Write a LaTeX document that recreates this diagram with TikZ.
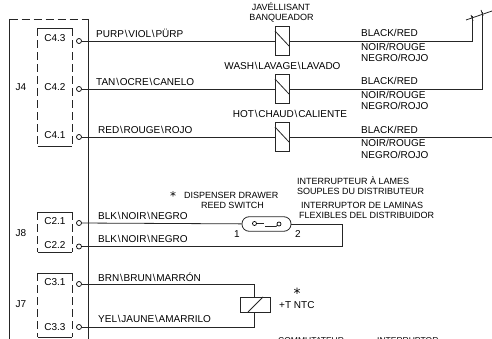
\documentclass[tikz,border=0pt]{standalone}
\usepackage{fontspec}
\setmainfont{Liberation Sans}
\newfontfamily\plotfont{Liberation Sans}
\newfontfamily\starfont{DejaVu Sans}
\newcommand{\bsl}{\kern0.8pt\textbackslash\kern0.8pt}
\newcommand{\plotstar}{\smash{\raisebox{-2pt}{\starfont\fontsize{12}{12}\selectfont *}}}
\tikzset{
	wire/.style={line width=0.8pt, black!85},
	frameline/.style={line width=0.8pt, black!85},
	splitline/.style={line width=0.8pt, black!85, dash pattern=on 8pt off 4pt},
	pin/.style={circle, draw, line width=0.7pt, minimum size=5pt, inner sep=0pt},
	label/.style={font=\plotfont\fontsize{10}{10}\selectfont, inner sep=0pt, text=black},
	namelabel/.style={label, font=\plotfont\fontsize{9}{9}\selectfont},
	wirelabel/.style={label, anchor=west},
	relaycoil/.style={draw, line width=0.8pt, black!85, minimum width=14pt, minimum height=29pt, inner sep=0pt},
	ntccoil/.style={draw, line width=0.8pt, black!85, minimum width=30pt, minimum height=15pt, inner sep=0pt},
}
\begin{document}
\begin{tikzpicture}[x=1pt, y=-1pt]
	\useasboundingbox (0, 0) rectangle (492, 339);
	
	% Main board frame
	\draw[splitline] (9.5, 19) -- (88.5, 19);
	\draw[frameline] (9.5, 19) -- (9.5, 339);
	\draw[frameline] (88.5, 19) -- (88.5, 339);
	
	% Connector housings
	\draw[frameline] (37.5, 28.5) -- (72, 28.5);
	\draw[frameline] (37.5, 146) -- (72, 146);
	\draw[splitline] (37.5, 28.5) -- (37.5, 146);
	\draw[splitline] (72, 28.5) -- (72, 146);
	\draw[frameline] (37.5, 212) -- (72, 212);
	\draw[frameline] (37.5, 252) -- (72, 252);
	\draw[splitline] (37.5, 212) -- (37.5, 252);
	\draw[splitline] (72, 212) -- (72, 252);
	\draw[frameline] (37.5, 273) -- (72, 273);
	\draw[frameline] (37.5, 337) -- (72, 337);
	\draw[splitline] (37.5, 273) -- (37.5, 337);
	\draw[splitline] (72, 273) -- (72, 337);
	
	% Connector names
	\node[label] (jfour) at (21, 87) {J4};
	\node[label] (jeight) at (21, 233) {J8};
	\node[label] (jseven) at (21, 304) {J7};
	\node[label] (cfourthree) at (55, 38.5) {C4.3};
	\node[label] (cfourtwo) at (55, 87) {C4.2};
	\node[label] (cfourone) at (55, 135) {C4.1};
	\node[label] (ctwoone) at (55, 221) {C2.1};
	\node[label] (ctwotwo) at (55, 245) {C2.2};
	\node[label] (cthreeone) at (55, 282) {C3.1};
	\node[label] (cthreethree) at (55, 327) {C3.3};
	
	% Pins
	\node[pin] (pinA) at (79, 41) {};
	\node[pin] (pinB) at (79, 89) {};
	\node[pin] (pinC) at (79, 137) {};
	\node[pin] (pinD) at (79, 223) {};
	\node[pin] (pinE) at (79, 246.5) {};
	\node[pin] (pinF) at (79, 284) {};
	\node[pin] (pinG) at (79, 327) {};
	
	% Valves
	\node[relaycoil] (valveA) at (282, 41) {};
	\node[relaycoil] (valveB) at (282, 89) {};
	\node[relaycoil] (valveC) at (282, 137) {};
	\draw[wire] (275, 31) -- (289, 46);
	\draw[wire] (275, 79) -- (289, 94);
	\draw[wire] (275, 127) -- (289, 142);
	
	% Free ends on the right
	\coordinate (endA) at (472, 16);
	\coordinate (endB) at (482, 12.5);
	\coordinate (endC) at (492, 137);
	\coordinate (capL) at (466, 20);
	\coordinate (capR) at (492, 11);
	
	% Valve wires
	\draw[wire] (pinA) -- (valveA);
	\draw[wire] (pinB) -- (valveB);
	\draw[wire] (pinC) -- (valveC);
	\draw[wire] (valveA) -- (472, 41) -- (endA);
	\draw[wire] (valveB) -- (482, 89) -- (endB);
	\draw[wire] (valveC) -- (endC);
	\draw[wire] (capL) -- (capR);
	\draw[wire] (471, 15) -- (473, 21);
	\draw[wire] (481, 10) -- (483, 16);
	
	% Reed switch
	\node[draw, wire, rounded corners=7pt, minimum width=49pt, minimum height=14.5pt, inner sep=0pt] (reed) at (266.5, 224) {};
	\node[pin, minimum size=4pt] (contactL) at (254.5, 223.5) {};
	\node[pin, minimum size=4pt] (contactR) at (279, 224) {};
	\coordinate (armL) at (264, 223.5);
	\coordinate (armR) at (265, 226.5);
	\draw[wire] (contactL) -- (armL);
	\draw[wire] (armR) -- (276, 226.5) -- (contactR);
	\draw[wire] (pinD) -- (reed);
	\draw[wire] (pinE) -- (342.5, 246.5) -- (342.5, 224) -- (reed);
	\node[label] (reedone) at (237, 234) {1};
	\node[label] (reedtwo) at (298, 234) {2};
	
	% NTC
	\node[ntccoil] (ntc) at (255, 304.5) {};
	\draw[wire] (248, 312) -- (263, 297);
	\draw[wire] (pinF) -- (254.5, 284) -- (254.5, 297);
	\draw[wire] (pinG) -- (254.5, 327) -- (254.5, 312);
	
	% Wire colours at the pins
	\node[wirelabel] (colA) at (96, 33) {PURP\bsl VIOL\bsl PÜRP};
	\node[wirelabel] (colB) at (96, 82) {TAN\bsl OCRE\bsl CANELO};
	\node[wirelabel] (colC) at (98, 130) {RED\bsl ROUGE\bsl ROJO};
	\node[wirelabel] (colD) at (98, 216) {BLK\bsl NOIR\bsl NEGRO};
	\node[wirelabel] (colE) at (98, 239) {BLK\bsl NOIR\bsl NEGRO};
	\node[wirelabel] (colF) at (98, 277) {BRN\bsl BRUN\bsl MARRÓN};
	\node[wirelabel] (colG) at (98, 319) {YEL\bsl JAUNE\bsl AMARRILO};
	
	% Wire colours at the right
	\node[wirelabel] (blackA) at (361, 33) {BLACK/RED};
	\node[wirelabel] (noirA) at (361, 47) {NOIR/ROUGE};
	\node[wirelabel] (negroA) at (361, 58) {NEGRO/ROJO};
	\node[wirelabel] (blackB) at (361, 81) {BLACK/RED};
	\node[wirelabel] (noirB) at (361, 95) {NOIR/ROUGE};
	\node[wirelabel] (negroB) at (361, 106) {NEGRO/ROJO};
	\node[wirelabel] (blackC) at (361, 130) {BLACK/RED};
	\node[wirelabel] (noirC) at (361, 143) {NOIR/ROUGE};
	\node[wirelabel] (negroC) at (361, 155) {NEGRO/ROJO};
	
	% Valve names
	\node[namelabel] (bleachA) at (281, 7) {JAVÉLLISANT};
	\node[namelabel] (bleachB) at (281.5, 18) {BANQUEADOR};
	\node[label] (wash) at (282.5, 66) {WASH\bsl LAVAGE\bsl LAVADO};
	\node[label] (hot) at (290, 114) {HOT\bsl CHAUD\bsl CALIENTE};
	
	% Switch names
	\node[namelabel, anchor=west] (reedA) at (170, 195) {\plotstar\hspace{8pt}DISPENSER DRAWER};
	\node[namelabel] (reedB) at (232.5, 205) {REED SWITCH};
	\node[namelabel, anchor=west] (frA) at (297, 181) {INTERRUPTEUR À LAMES};
	\node[namelabel, anchor=west] (frB) at (297, 191) {SOUPLES DU DISTRIBUTEUR};
	\node[namelabel, anchor=west] (esA) at (301, 205) {INTERRUPTOR DE LAMINAS};
	\node[namelabel, anchor=west] (esB) at (299, 215) {FLEXIBLES DEL DISTRIBUIDOR};
	
	% NTC name
	\node[label, font=\starfont\fontsize{14}{14}\selectfont] (ntcstar) at (297, 293.5) {*};
	\node[wirelabel] (ntcname) at (279, 305) {+T NTC};
	
	% Cut off at the bottom edge
	\node[namelabel, anchor=west, font=\plotfont\fontsize{8.5}{8.5}\selectfont] (cutA) at (278, 341) {COMMUTATEUR};
	\node[namelabel, anchor=west, font=\plotfont\fontsize{8.5}{8.5}\selectfont] (cutB) at (377, 341) {INTERRUPTOR};
\end{tikzpicture}
\end{document}
